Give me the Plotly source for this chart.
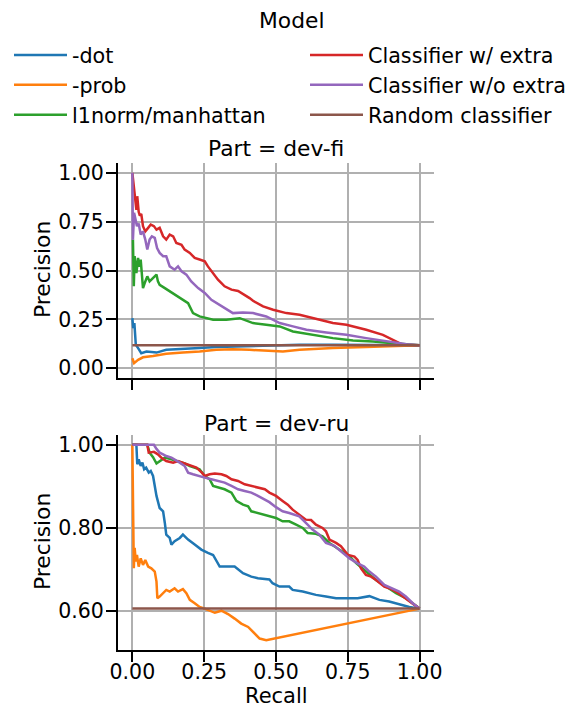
import plotly.graph_objects as go

# ---------------- data ----------------
models = ["-dot", "-prob", "l1norm/manhattan", "Classifier w/ extra",
          "Classifier w/o extra", "Random classifier"]
colors = ["#1f77b4", "#ff7f0e", "#2ca02c", "#d62728", "#9467bd", "#8c564b"]
parts = ["dev-fi", "dev-ru"]
x_ticks = [0.0, 0.25, 0.5, 0.75, 1.0]
y_ticks_fi = [0.0, 0.25, 0.5, 0.75, 1.0]
y_ticks_ru = [0.6, 0.8, 1.0]

# Part = dev-fi
dot_fi_r = [0, 0.003, 0.007, 0.012, 0.020, 0.031, 0.049, 0.084, 0.118, 0.176, 0.234, 0.292,
            0.350, 0.466, 0.582, 0.698, 0.814, 1.0]
dot_fi_p = [0.256, 0.205, 0.231, 0.12, 0.103, 0.077, 0.085, 0.08, 0.094, 0.097, 0.103, 0.108,
            0.111, 0.115, 0.12, 0.12, 0.118, 0.118]
prob_fi_r = [0, 0.006, 0.020, 0.037, 0.072, 0.118, 0.176, 0.234, 0.292, 0.350, 0.408, 0.466,
             0.524, 0.582, 0.698, 0.814, 1.0]
prob_fi_p = [0.051, 0.026, 0.043, 0.056, 0.063, 0.074, 0.08, 0.085, 0.094, 0.097, 0.094, 0.09,
             0.085, 0.094, 0.103, 0.108, 0.118]
l1_fi_r = [0.002, 0.005, 0.008, 0.014, 0.020, 0.023, 0.029, 0.034, 0.037, 0.043, 0.052, 0.060,
           0.072, 0.084, 0.089, 0.095, 0.113, 0.130, 0.147, 0.165, 0.194, 0.211, 0.234, 0.281,
           0.327, 0.374, 0.420, 0.466, 0.513, 0.559, 0.629, 0.698, 0.768, 0.838, 0.907, 1.0]
l1_fi_p = [0.658, 0.419, 0.573, 0.487, 0.564, 0.52, 0.556, 0.453, 0.41, 0.436, 0.47, 0.444,
           0.462, 0.479, 0.444, 0.427, 0.41, 0.393, 0.376, 0.359, 0.333, 0.282, 0.265, 0.248,
           0.248, 0.256, 0.231, 0.222, 0.214, 0.188, 0.171, 0.154, 0.142, 0.137, 0.128, 0.118]
cw_fi_r = [0, 0.008, 0.014, 0.017, 0.022, 0.026, 0.031, 0.037, 0.045, 0.055, 0.064, 0.075,
           0.084, 0.095, 0.107, 0.118, 0.130, 0.142, 0.153, 0.171, 0.182, 0.2, 0.217, 0.234,
           0.252, 0.263, 0.281, 0.298, 0.321, 0.345, 0.368, 0.391, 0.408, 0.420, 0.455, 0.490,
           0.536, 0.582, 0.629, 0.698, 0.745, 0.814, 0.872, 0.907, 0.942, 1.0]
cw_fi_p = [1.0, 0.88, 0.81, 0.88, 0.80, 0.78, 0.79, 0.727, 0.70, 0.718, 0.735, 0.727,
           0.709, 0.718, 0.675, 0.658, 0.684, 0.675, 0.641, 0.632, 0.607, 0.59, 0.564, 0.556,
           0.547, 0.521, 0.487, 0.453, 0.419, 0.402, 0.395, 0.376, 0.359, 0.345, 0.316, 0.299,
           0.282, 0.274, 0.256, 0.231, 0.222, 0.197, 0.171, 0.145, 0.12, 0.118]
co_fi_r = [0, 0.002, 0.006, 0.010, 0.016, 0.022, 0.029, 0.037, 0.045, 0.052, 0.060, 0.068,
           0.078, 0.086, 0.095, 0.107, 0.118, 0.130, 0.147, 0.159, 0.171, 0.188, 0.205, 0.229,
           0.252, 0.275, 0.304, 0.350, 0.385, 0.420, 0.466, 0.513, 0.559, 0.606, 0.675, 0.745,
           0.814, 0.884, 0.954, 1.0]
co_fi_p = [1.0, 0.658, 0.795, 0.761, 0.727, 0.74, 0.684, 0.70, 0.658, 0.607, 0.658, 0.675,
           0.667, 0.615, 0.59, 0.573, 0.573, 0.521, 0.504, 0.521, 0.496, 0.479, 0.444, 0.41,
           0.385, 0.35, 0.325, 0.282, 0.285, 0.282, 0.265, 0.231, 0.214, 0.197, 0.183, 0.171,
           0.154, 0.137, 0.123, 0.118]
rand_fi_r = [0.0, 1.0]
rand_fi_p = [0.118, 0.118]

# Part = dev-ru
dot_ru_r = [0, 0.014, 0.017, 0.022, 0.029, 0.035, 0.041, 0.048, 0.057, 0.064, 0.072, 0.078,
            0.084, 0.095, 0.107, 0.113, 0.118, 0.130, 0.136, 0.147, 0.165, 0.176, 0.194, 0.217,
            0.240, 0.263, 0.281, 0.304, 0.327, 0.356, 0.385, 0.414, 0.437, 0.477, 0.488, 0.512,
            0.546, 0.558, 0.593, 0.639, 0.674, 0.709, 0.755, 0.784, 0.825, 0.860, 0.894, 0.941,
            0.964, 1.0]
dot_ru_p = [1.0, 1.0, 0.953, 0.965, 0.949, 0.957, 0.941, 0.945, 0.933, 0.937, 0.925, 0.901,
            0.877, 0.848, 0.840, 0.812, 0.784, 0.776, 0.760, 0.768, 0.776, 0.784, 0.772, 0.760,
            0.748, 0.740, 0.735, 0.707, 0.707, 0.707, 0.691, 0.683, 0.679, 0.676, 0.667, 0.659,
            0.659, 0.651, 0.647, 0.639, 0.635, 0.631, 0.631, 0.631, 0.636, 0.627, 0.623, 0.615,
            0.610, 0.606]
prob_ru_r = [0, 0.002, 0.005, 0.008, 0.012, 0.016, 0.022, 0.029, 0.037, 0.045, 0.055, 0.066,
             0.078, 0.084, 0.087, 0.095, 0.107, 0.118, 0.130, 0.147, 0.159, 0.176, 0.188, 0.2,
             0.217, 0.234, 0.252, 0.269, 0.287, 0.31, 0.333, 0.356, 0.379, 0.403, 0.420, 0.443,
             0.466, 1.0]
prob_ru_p = [1.0, 0.784, 0.703, 0.752, 0.719, 0.735, 0.707, 0.727, 0.711, 0.723, 0.707, 0.703,
             0.695, 0.671, 0.631, 0.635, 0.643, 0.651, 0.647, 0.655, 0.647, 0.653, 0.643, 0.627,
             0.619, 0.610, 0.606, 0.602, 0.596, 0.601, 0.593, 0.582, 0.570, 0.562, 0.550, 0.534,
             0.530, 0.606]
l1_ru_r = [0, 0.052, 0.060, 0.072, 0.084, 0.095, 0.113, 0.136, 0.159, 0.182, 0.2, 0.217,
           0.234, 0.252, 0.269, 0.281, 0.304, 0.321, 0.345, 0.362, 0.385, 0.403, 0.414, 0.437,
           0.461, 0.477, 0.5, 0.523, 0.546, 0.570, 0.593, 0.610, 0.639, 0.662, 0.686, 0.720,
           0.751, 0.78, 0.813, 0.848, 0.883, 0.918, 0.952, 0.976, 1.0]
l1_ru_p = [1.0, 1.0, 0.981, 0.970, 0.955, 0.961, 0.969, 0.965, 0.960, 0.955, 0.949, 0.945,
           0.941, 0.925, 0.917, 0.901, 0.897, 0.893, 0.885, 0.865, 0.856, 0.852, 0.840, 0.836,
           0.832, 0.828, 0.824, 0.816, 0.816, 0.808, 0.8, 0.788, 0.786, 0.780, 0.764, 0.748,
           0.735, 0.715, 0.695, 0.675, 0.659, 0.643, 0.631, 0.619, 0.606]
cw_ru_r = [0, 0.052, 0.057, 0.075, 0.089, 0.101, 0.118, 0.142, 0.159, 0.176, 0.194, 0.211,
           0.223, 0.242, 0.252, 0.269, 0.287, 0.310, 0.327, 0.345, 0.368, 0.391, 0.414, 0.437,
           0.461, 0.477, 0.5, 0.523, 0.541, 0.558, 0.581, 0.604, 0.622, 0.639, 0.662, 0.674,
           0.686, 0.709, 0.726, 0.751, 0.773, 0.784, 0.796, 0.813, 0.831, 0.848, 0.877, 0.894,
           0.918, 0.941, 0.964, 1.0]
cw_ru_p = [1.0, 1.0, 0.981, 0.983, 0.977, 0.969, 0.961, 0.957, 0.961, 0.957, 0.953, 0.949,
           0.945, 0.933, 0.925, 0.929, 0.931, 0.929, 0.925, 0.917, 0.913, 0.905, 0.901, 0.897,
           0.893, 0.885, 0.877, 0.865, 0.856, 0.844, 0.832, 0.820, 0.819, 0.808, 0.8, 0.792,
           0.772, 0.764, 0.756, 0.735, 0.731, 0.723, 0.703, 0.687, 0.683, 0.675, 0.659, 0.655,
           0.647, 0.635, 0.623, 0.606]
co_ru_r = [0, 0.075, 0.084, 0.095, 0.107, 0.118, 0.136, 0.147, 0.165, 0.182, 0.194, 0.211,
           0.229, 0.252, 0.275, 0.298, 0.321, 0.345, 0.368, 0.391, 0.414, 0.437, 0.461, 0.477,
           0.5, 0.523, 0.546, 0.581, 0.604, 0.627, 0.651, 0.674, 0.703, 0.726, 0.755, 0.784,
           0.807, 0.825, 0.848, 0.877, 0.906, 0.929, 0.952, 0.976, 1.0]
co_ru_p = [1.0, 1.0, 0.99, 0.981, 0.977, 0.973, 0.969, 0.965, 0.957, 0.949, 0.933, 0.929,
           0.925, 0.921, 0.917, 0.913, 0.909, 0.901, 0.893, 0.889, 0.885, 0.877, 0.869, 0.862,
           0.850, 0.840, 0.836, 0.828, 0.812, 0.796, 0.784, 0.764, 0.757, 0.744, 0.727, 0.715,
           0.707, 0.695, 0.683, 0.663, 0.655, 0.647, 0.635, 0.619, 0.606]
rand_ru_r = [0.0, 1.0]
rand_ru_p = [0.606, 0.606]

curves = {
    "dev-fi": [(dot_fi_r, dot_fi_p), (prob_fi_r, prob_fi_p), (l1_fi_r, l1_fi_p),
               (cw_fi_r, cw_fi_p), (co_fi_r, co_fi_p), (rand_fi_r, rand_fi_p)],
    "dev-ru": [(dot_ru_r, dot_ru_p), (prob_ru_r, prob_ru_p), (l1_ru_r, l1_ru_p),
               (cw_ru_r, cw_ru_p), (co_ru_r, co_ru_p), (rand_ru_r, rand_ru_p)],
}

FONT = "DejaVu Sans"
OFF = 8                  # default page body margin
W, H = 580 - OFF, 709 - OFF

fig = go.Figure()
for pi, part in enumerate(parts):
    xa = "x" if pi == 0 else "x2"
    ya = "y" if pi == 0 else "y2"
    for mi, (m, c) in enumerate(zip(models, colors)):
        r, p = curves[part][mi]
        fig.add_trace(go.Scatter(
            x=r, y=p, mode="lines", name=m, xaxis=xa, yaxis=ya,
            line=dict(color=c, width=2.5),
            showlegend=(pi == 0),
            legend="legend" if mi < 3 else "legend2",
            legendgroup=m,
        ))

def px_x(v):
    return (v - OFF) / W

def px_y(v):
    return 1 - (v - OFF) / H

common = dict(
    showline=True, linecolor="black", linewidth=2, mirror=False,
    ticks="outside", ticklen=10, tickwidth=2, tickcolor="black",
    showgrid=True, gridcolor="#b0b0b0", gridwidth=1.5, zeroline=False,
    tickfont=dict(family=FONT, size=20.5, color="black"),
)
xdom = [px_x(118), px_x(434)]
TS = 21.8

fig.update_layout(
    width=W, height=H,
    margin=dict(l=0, r=0, t=0, b=0, autoexpand=False),
    paper_bgcolor="white", plot_bgcolor="white",
    font=dict(family=FONT, size=20, color="black"),
    xaxis=dict(domain=xdom, range=[-0.05, 1.05], tickvals=x_ticks, showticklabels=False,
               anchor="y", **common),
    yaxis=dict(domain=[px_y(378), px_y(163)], range=[-0.05, 1.05], tickvals=y_ticks_fi,
               tickformat=".2f", anchor="x", ticklabelstandoff=-2, **common),
    xaxis2=dict(domain=xdom, range=[-0.05, 1.05], tickvals=x_ticks, tickformat=".2f",
                anchor="y2", ticklabelstandoff=-8, **common),
    yaxis2=dict(domain=[px_y(650), px_y(435)], range=[0.5065, 1.0235], tickvals=y_ticks_ru,
                tickformat=".2f", anchor="x2", ticklabelstandoff=-2, **common),
    legend=dict(x=px_x(9), y=px_y(35), xanchor="left", yanchor="top",
                font=dict(family=FONT, size=20.7), bgcolor="rgba(0,0,0,0)",
                tracegroupgap=5, itemwidth=53, traceorder="normal"),
    legend2=dict(x=px_x(305), y=px_y(35), xanchor="left", yanchor="top",
                 font=dict(family=FONT, size=20.7), bgcolor="rgba(0,0,0,0)",
                 tracegroupgap=5, itemwidth=53, traceorder="normal"),
    annotations=[
        dict(text="Model", x=px_x(291), y=px_y(20), xref="paper", yref="paper",
             showarrow=False, font=dict(family=FONT, size=TS), xanchor="center", yanchor="middle"),
        dict(text="Part = dev-fi", x=px_x(276), y=px_y(149), xref="paper", yref="paper",
             showarrow=False, font=dict(family=FONT, size=TS), xanchor="center", yanchor="middle"),
        dict(text="Part = dev-ru", x=px_x(276), y=px_y(423), xref="paper", yref="paper",
             showarrow=False, font=dict(family=FONT, size=TS), xanchor="center", yanchor="middle"),
        dict(text="Precision", x=px_x(42), y=px_y(270), xref="paper", yref="paper",
             showarrow=False, textangle=-90, font=dict(family=FONT, size=TS),
             xanchor="center", yanchor="middle"),
        dict(text="Precision", x=px_x(42), y=px_y(542), xref="paper", yref="paper",
             showarrow=False, textangle=-90, font=dict(family=FONT, size=TS),
             xanchor="center", yanchor="middle"),
        dict(text="Recall", x=px_x(276), y=0, xref="paper", yref="paper",
             showarrow=False, font=dict(family=FONT, size=21), xanchor="center", yanchor="bottom",
             borderpad=0),
    ],
)

fig.write_html("out.html")
